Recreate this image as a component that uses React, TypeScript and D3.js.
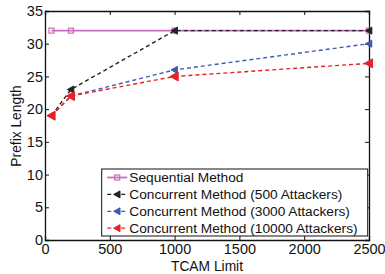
import React, { useEffect, useRef } from "react";
import * as d3 from "d3";

const tcam = [50, 200, 1000, 2500];
const sequential = [32, 32, 32, 32];
const att500 = [19, 23, 32, 32];
const att3000 = [19, 22, 26, 30];
const att10000 = [19, 22, 25, 27];
const xTicks = [0, 500, 1000, 1500, 2000, 2500];
const yTicks = [0, 5, 10, 15, 20, 25, 30, 35];

const series = [
  { name: "Sequential Method", values: sequential, color: "#c86cc0", dash: null, marker: "square" },
  { name: "Concurrent Method (500 Attackers)", values: att500, color: "#222222", dash: "4,3", marker: "tri" },
  { name: "Concurrent Method (3000 Attackers)", values: att3000, color: "#3d5bb5", dash: "4,3", marker: "tri" },
  { name: "Concurrent Method (10000 Attackers)", values: att10000, color: "#e52228", dash: "4,3", marker: "tri" },
];

const App = () => {
  const ref = useRef<SVGSVGElement>(null);

  useEffect(() => {
    document.body.style.margin = "0";
    const W = 385, H = 274;
    const margin = { top: 11, right: 16, bottom: 34, left: 45 };
    const width = W - margin.left - margin.right;
    const height = H - margin.top - margin.bottom;

    const root = d3.select(ref.current);
    root.selectAll("*").remove();
    const svg = root
      .append("g")
      .attr("transform", `translate(${margin.left},${margin.top})`)
      .style("font-family", "'Liberation Sans', Arial, sans-serif");

    const x = d3.scaleLinear().domain([0, 2500]).range([0, width]);
    const y = d3.scaleLinear().domain([0, 35]).range([height, 0]);

    // axes, ticks pointing in
    const bottom = svg.append("g").attr("transform", `translate(0,${height})`)
      .call(d3.axisBottom(x).tickValues(xTicks).tickSize(-4).tickPadding(4).tickFormat(d3.format("d")));
    const top = svg.append("g")
      .call(d3.axisTop(x).tickValues(xTicks).tickSize(-4).tickFormat(() => ""));
    const left = svg.append("g")
      .call(d3.axisLeft(y).tickValues(yTicks).tickSize(-4).tickPadding(2));
    const right = svg.append("g").attr("transform", `translate(${width},0)`)
      .call(d3.axisRight(y).tickValues(yTicks).tickSize(-4).tickFormat(() => ""));
    [bottom, top, left, right].forEach((g) => {
      g.select(".domain").attr("stroke", "#111").attr("stroke-width", 1.3);
      g.selectAll(".tick line").attr("stroke", "#111");
      g.selectAll("text").attr("font-size", 14.5).attr("fill", "#111").style("font-family", "'Liberation Sans', Arial, sans-serif");
    });

    svg.append("text")
      .attr("x", width / 2).attr("y", height + 31)
      .attr("text-anchor", "middle").attr("font-size", 13.8).attr("fill", "#111")
      .text("TCAM Limit");
    svg.append("text")
      .attr("transform", `translate(${-24},${115}) rotate(-90)`)
      .attr("text-anchor", "middle").attr("font-size", 13.8).attr("fill", "#111")
      .text("Prefix Length");

    const line = d3.line<number>().x((d, i) => x(tcam[i])).y((d) => y(d));

    const drawMarker = (g: any, cx: number, cy: number, s: any, big: boolean) => {
      if (s.marker === "square") {
        g.append("rect").attr("x", cx - 2.5).attr("y", cy - 2.5).attr("width", 5).attr("height", 5)
          .attr("fill", "none").attr("stroke", s.color).attr("stroke-width", 1.2);
      } else {
        const r = big ? 4.5 : 3.5;
        g.append("path")
          .attr("d", `M${cx - r},${cy} L${cx + r * 0.8},${cy - r} L${cx + r * 0.8},${cy + r} Z`)
          .attr("fill", s.color).attr("stroke", s.color).attr("stroke-width", 1);
      }
    };

    series.forEach((s) => {
      svg.append("path").datum(s.values)
        .attr("fill", "none").attr("stroke", s.color).attr("stroke-width", s.dash ? 1.4 : 1.8)
        .attr("stroke-dasharray", s.dash ?? null)
        .attr("d", line);
      s.values.forEach((v, i) => drawMarker(svg, x(tcam[i]), y(v), s, s.name.includes("10000")));
    });

    // legend
    const lx = 56.7, ly = 158;
    const lg = svg.append("g").attr("transform", `translate(${lx},${ly})`);
    lg.append("rect").attr("width", 266).attr("height", 67)
      .attr("fill", "white").attr("stroke", "#111").attr("stroke-width", 1);
    series.forEach((s, i) => {
      const ry = 8.5 + i * 16.9;
      lg.append("line").attr("x1", 5.5).attr("x2", 25.5).attr("y1", ry).attr("y2", ry)
        .attr("stroke", s.color).attr("stroke-width", s.dash ? 1.3 : 1.8).attr("stroke-dasharray", s.dash ?? null);
      drawMarker(lg, 15.5, ry, s, false);
      lg.append("text").attr("x", 27.6).attr("y", ry).attr("dy", "0.35em")
        .attr("font-size", 13.7).attr("fill", "#111").text(s.name);
    });
  }, []);

  return <svg ref={ref} width={385} height={274} style={{ display: "block" }} />;
};

export default App;
